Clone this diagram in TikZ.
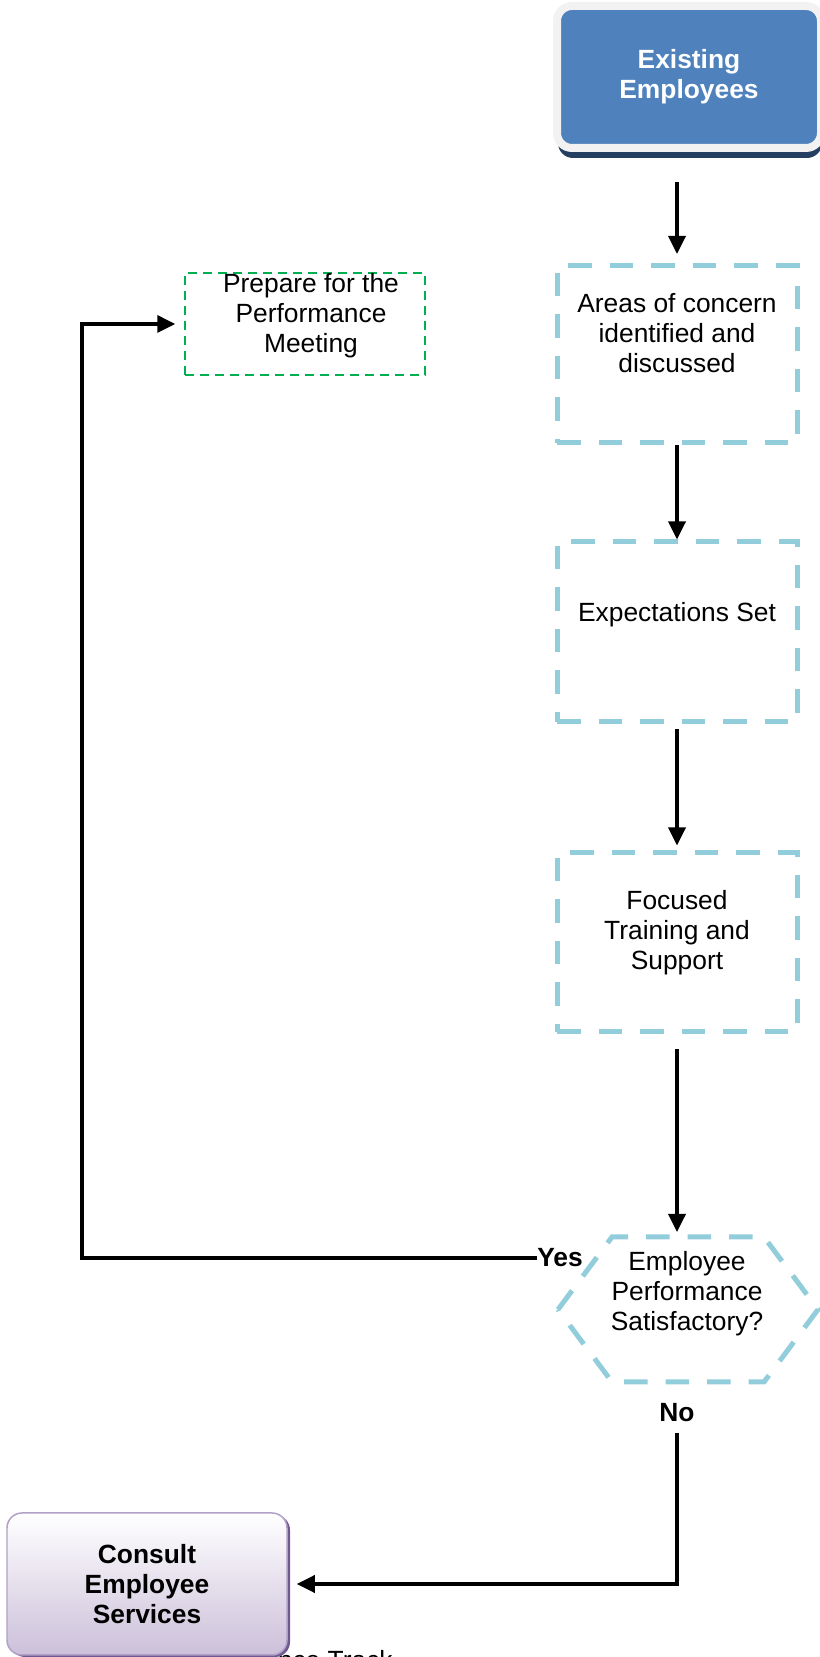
\documentclass[tikz,border=0pt]{standalone}
\usepackage{fontspec}
\setmainfont{Liberation Sans}
\usetikzlibrary{arrows.meta,shadows}
\definecolor{boxblue}{RGB}{79,129,189}
\definecolor{rimgray}{RGB}{242,242,242}
\definecolor{shadeblue}{RGB}{36,63,96}
\definecolor{dashaqua}{RGB}{146,205,220}
\definecolor{prepgreen}{RGB}{0,176,80}
\definecolor{lilacline}{RGB}{178,161,199}
\definecolor{lilacfill}{RGB}{204,192,218}
\definecolor{lilacshade}{RGB}{112,88,145}

\begin{document}
\begin{tikzpicture}[
    >={Triangle[length=0.36cm,width=0.34cm]},
    txt/.style={font=\fontsize{15}{17}\selectfont, align=center, inner sep=0pt},
    bold/.style={txt, font=\fontsize{15}{17}\selectfont\bfseries},
    dashline/.style={draw=dashaqua, line width=0.1cm, dash pattern=on 0.47cm off 0.36cm},
    concern/.style={dashline, minimum width=4.8cm},
    flow/.style={->, line width=0.07cm},
  ]
  \useasboundingbox (0,0) rectangle (16.4,33.14);

  % Start box
  \node[bold, text=white, draw=rimgray, line width=0.16cm, fill=boxblue,
        rounded corners=0.3cm, minimum width=5.28cm, minimum height=2.84cm,
        drop shadow={shadow xshift=0.02cm, shadow yshift=-0.2cm, fill=shadeblue, opacity=1}]
        (exist) at (13.78,31.6) {Existing\\Employees};

  % Steps
  \node[concern, minimum height=3.54cm] (areas) at (13.54,26.05) {};
  \node[txt] (areas-t) at (13.54,26.48) {Areas of concern\\identified and\\discussed};

  \node[concern, minimum height=3.6cm] (expect) at (13.54,20.5) {};
  \node[txt] (expect-t) at (13.54,20.84) {Expectations Set};

  \node[concern, minimum height=3.58cm] (focus) at (13.54,14.29) {};
  \node[txt] (focus-t) at (13.54,14.48) {Focused\\Training and\\Support};

  % Decision
  \node[minimum width=5.2cm, minimum height=2.9cm, inner sep=0pt, outer sep=0pt] (sat) at (13.76,6.95) {};
  \draw[dashline] (sat.west) -- ([xshift=1.08cm]sat.north west) -- ([xshift=-1.08cm]sat.north east)
        -- (sat.east) -- ([xshift=-1.08cm]sat.south east) -- ([xshift=1.08cm]sat.south west) -- cycle;
  \node[txt] (sat-t) at (13.74,7.26) {Employee\\Performance\\Satisfactory?};

  % Loop target
  \node[draw=prepgreen, line width=0.05cm, dash pattern=on 0.18cm off 0.12cm,
        minimum width=4.8cm, minimum height=2.04cm] (prep) at (6.1,26.66) {};
  \node[txt] (prep-t) at (6.22,26.82) {Prepare for the\\Performance\\Meeting};

  % Caption behind the end box
  \node[txt, anchor=base east] (track) at (7.86,-0.26) {Performance Track};

  \node[bold, draw=lilacline, line width=0.03cm, top color=white, bottom color=lilacfill,
        rounded corners=0.3cm, minimum width=5.6cm, minimum height=2.84cm,
        drop shadow={shadow xshift=0.06cm, shadow yshift=-0.04cm, fill=lilacshade, opacity=1}]
        (consult) at (2.94,1.46) {Consult\\Employee\\Services};

  \node[bold] (yes) at (11.2,7.98) {Yes};
  \node[bold] (no) at (13.54,4.88) {No};
  \coordinate (back) at (1.64,0);

  % Connectors
  \draw[flow, shorten <=0.6cm, shorten >=0.19cm] (exist.south -| areas.north) -- (areas.north);
  \draw[flow] (areas.south) -- (expect.north);
  \draw[flow, shorten <=0.1cm, shorten >=0.1cm] (expect.south) -- (focus.north);
  \draw[flow, shorten <=0.3cm, shorten >=0.1cm] (focus.south) -- (focus.south |- sat.north);
  \draw[flow, shorten >=0.17cm] (yes.west) -| (back |- prep.west) -- (prep.west);
  \draw[flow, shorten <=0.2cm, shorten >=0.18cm] (no.south) |- (consult.east);
\end{tikzpicture}
\end{document}
